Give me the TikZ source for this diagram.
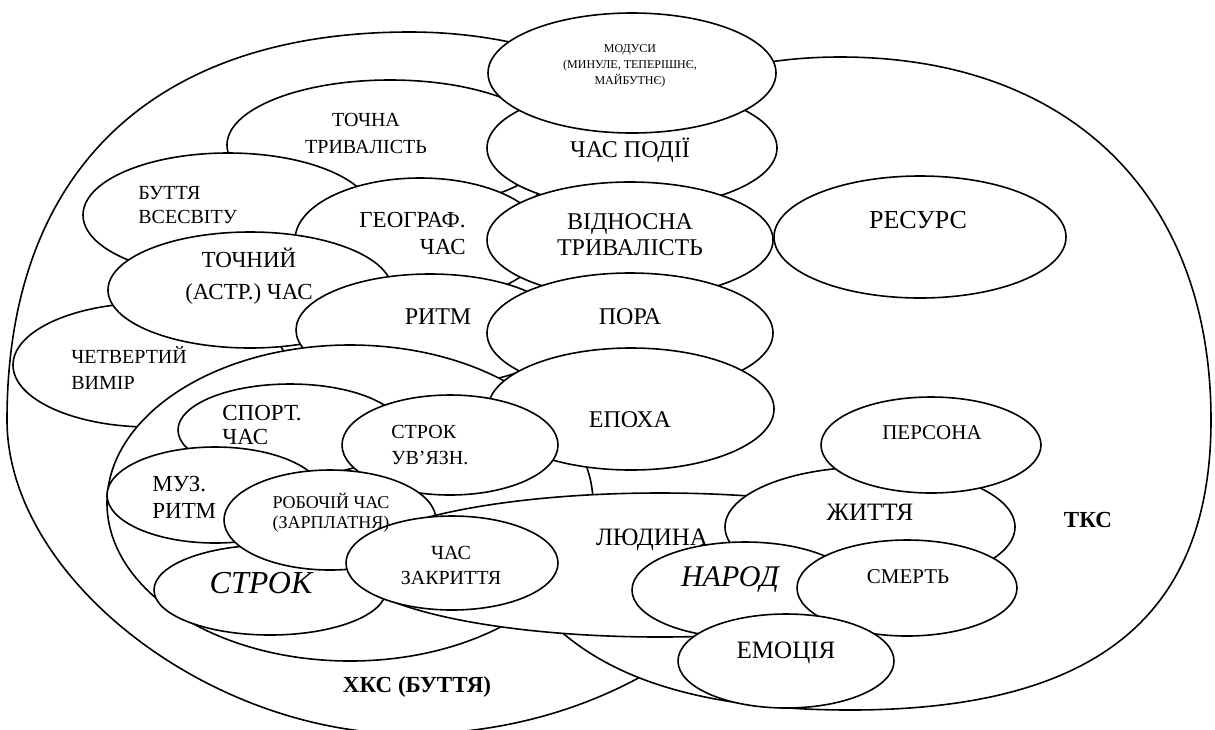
\documentclass[tikz,border=0pt]{standalone}
\usepackage{fontspec}
\setmainfont{Liberation Serif}
\newcommand\myfs[2]{\fontsize{#1}{#2}\selectfont}
\begin{document}
\begin{tikzpicture}[x=0.5pt,y=-0.5pt,
  oval/.style={draw=black,fill=white,line width=0.8pt},
  lbl/.style={inner sep=0pt,align=center,text=black}]
\fill[white] (0,0) rectangle (1215,729);
\useasboundingbox (0,0) rectangle (1215,729);
% outer regions
\path[oval] (410,32) .. controls (152,32) and (7,172) .. (7,420)
  .. controls (7,577) and (208,734) .. (410,734)
  .. controls (642,734) and (830,578) .. (830,385)
  .. controls (830,190) and (642,32) .. cycle; % KhKS
\path[oval] (840,57) .. controls (1070,57) and (1211,195) .. (1211,420)
  .. controls (1211,617) and (1095,710) .. (850,710)
  .. controls (591,710) and (475,614) .. (475,400)
  .. controls (475,194) and (621,57) .. cycle; % TKS
% upper left cluster
\path[oval] (390,145) ellipse [x radius=163,y radius=65];  % tochna tryvalist
\path[oval] (228,215) ellipse [x radius=145,y radius=62];  % buttia vsesvitu
\path[oval] (420,240) ellipse [x radius=125,y radius=62];  % geograf
\path[oval] (150,365) ellipse [x radius=137,y radius=62];  % chetvertyi vymir
\path[oval] (250,290) ellipse [x radius=142,y radius=58];  % tochnyi chas
\path[oval] (430,330) ellipse [x radius=134,y radius=56];  % rytm
% central column
\path[oval] (632,148) ellipse [x radius=145,y radius=60];  % chas podii
\path[oval] (632,73)  ellipse [x radius=144,y radius=60];  % modusy
\path[oval] (630,240) ellipse [x radius=143,y radius=58];  % vidnosna
\path[oval] (920,237) ellipse [x radius=146,y radius=61];  % resurs
\path[oval] (630,333) ellipse [x radius=143,y radius=60];  % pora
% inner big ellipse
\path[oval] (350,503) ellipse [x radius=243,y radius=158];
\path[oval] (631,409) ellipse [x radius=143,y radius=61];  % epokha
% lower left cluster
\path[oval] (290,430) ellipse [x radius=112,y radius=46];  % sport
\path[oval] (450,445) ellipse [x radius=108,y radius=50];  % strok uvyazn
\path[oval] (215,495) ellipse [x radius=108,y radius=48];  % muz rytm
\path[oval] (270,590) ellipse [x radius=116,y radius=45];  % strok
\path[oval] (330,520) ellipse [x radius=106,y radius=50];  % robochii chas
\path[oval] (660,565) ellipse [x radius=310,y radius=72];  % liudyna
\path[oval] (452,563) ellipse [x radius=106,y radius=47];  % chas zakryttia
% lower right cluster
\path[oval] (870,527) ellipse [x radius=145,y radius=60];  % zhyttia
\path[oval] (931,445) ellipse [x radius=110,y radius=48];  % persona
\path[oval] (745,590) ellipse [x radius=113,y radius=48];  % narod
\path[oval] (907,588) ellipse [x radius=110,y radius=48];  % smert
\path[oval] (786,661) ellipse [x radius=108,y radius=47];  % emotsiia
% labels
\node[lbl,font=\myfs{6}{8}] (modusy) at (630,66) {МОДУСИ\\(МИНУЛЕ, ТЕПЕРІШНЄ,\\МАЙБУТНЄ)};
\node[lbl,font=\myfs{10}{13.5}] (tochna) at (366,133) {ТОЧНА\\ТРИВАЛІСТЬ};
\node[lbl,font=\myfs{12}{13}] (podii) at (630,150) {ЧАС ПОДІЇ};
\node[lbl,align=left,anchor=west,font=\myfs{10}{12}] (buttia) at (138,205) {БУТТЯ\\ВСЕСВІТУ};
\node[lbl,align=right,anchor=east,font=\myfs{11.5}{13.5}] (geograf) at (466,233) {ГЕОГРАФ.\\ЧАС};
\node[lbl,font=\myfs{12}{13}] (vidnosna) at (630,235) {ВІДНОСНА\\ТРИВАЛІСТЬ};
\node[lbl,font=\myfs{13}{15}] (resurs) at (918,220) {РЕСУРС};
\node[lbl,font=\myfs{11.5}{16}] (tochnyi) at (249,276) {ТОЧНИЙ\\(АСТР.) ЧАС};
\node[lbl,font=\myfs{12}{13}] (rytm) at (438,317) {РИТМ};
\node[lbl,font=\myfs{12}{13}] (pora) at (630,317) {ПОРА};
\node[lbl,align=left,anchor=west,font=\myfs{10}{13}] (chetv) at (71,368) {ЧЕТВЕРТИЙ\\ВИМІР};
\node[lbl,font=\myfs{12}{13}] (epokha) at (630,420) {ЕПОХА};
\node[lbl,align=left,anchor=west,font=\myfs{11.5}{12}] (sport) at (222,425) {СПОРТ.\\ЧАС};
\node[lbl,align=left,anchor=west,font=\myfs{10}{13}] (uvyazn) at (391,445) {СТРОК\\УВ’ЯЗН.};
\node[lbl,align=left,anchor=west,font=\myfs{11.5}{13.5}] (muz) at (152,497) {МУЗ.\\РИТМ};
\node[lbl,font=\myfs{9}{10}] (robochii) at (331,513) {РОБОЧІЙ ЧАС\\(ЗАРПЛАТНЯ)};
\node[lbl,font=\myfs{16}{18}\itshape] (strok) at (261,583) {СТРОК};
\node[lbl,font=\myfs{10}{12.5}] (zakryttia) at (451,565) {ЧАС\\ЗАКРИТТЯ};
\node[lbl,font=\myfs{12.5}{14}] (liudyna) at (652,540) {ЛЮДИНА};
\node[lbl,font=\myfs{10.5}{12}] (persona) at (932,433) {ПЕРСОНА};
\node[lbl,font=\myfs{12.5}{14}] (zhyttia) at (870,512) {ЖИТТЯ};
\node[lbl,font=\myfs{11.5}{13}\bfseries] (tks) at (1088,520) {ТКС};
\node[lbl,font=\myfs{15}{17}\itshape] (narod) at (730,580) {НАРОД};
\node[lbl,font=\myfs{10.5}{12}] (smert) at (908,577) {СМЕРТЬ};
\node[lbl,font=\myfs{12.5}{14}] (emotsiia) at (786,653) {ЕМОЦІЯ};
\node[lbl,font=\myfs{11.5}{13}\bfseries] (khks) at (417,687) {ХКС (БУТТЯ)};
\end{tikzpicture}
\end{document}
